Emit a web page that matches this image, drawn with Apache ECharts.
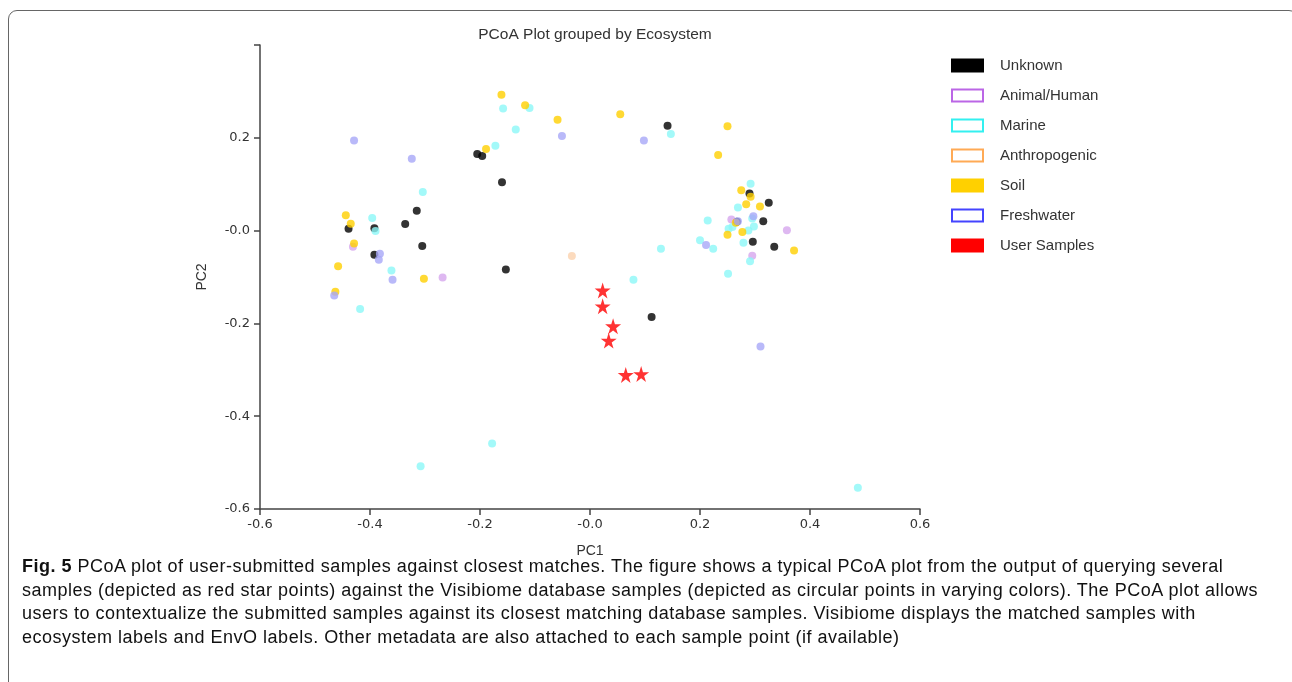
<!DOCTYPE html>
<html>
<head>
<meta charset="utf-8">
<script src="https://cdn.jsdelivr.net/npm/echarts@6/dist/echarts.min.js"></script>
<style>
  html, body { margin: 0; padding: 0; background: #fff; }
  #wrap { position: relative; width: 1292px; height: 682px; overflow: hidden; }
  #frame { position: absolute; left: 8px; top: 10px; width: 1290px; height: 700px;
           border: 1.5px solid #666; border-radius: 9px; box-sizing: border-box; }
  #chart { position: absolute; left: 0; top: 0; width: 1292px; height: 682px; }
  #caption { position: absolute; left: 22px; top: 555px; font-family: "Liberation Sans", sans-serif;
             font-size: 18px; letter-spacing: 0.5px; line-height: 23.5px; color: #111; white-space: nowrap; }
</style>
</head>
<body>
<div id="wrap">
  <div id="frame"></div>
  <div id="chart"></div>
  <div id="caption"></div>
</div>
<script>
// PC1 / PC2 coordinates per ecosystem
const unknown = [
    [-0.205, 0.165], [-0.196, 0.161], [-0.160, 0.104], [0.141, 0.226], [-0.315, 0.043],
    [-0.336, 0.014], [-0.439, 0.004], [-0.392, 0.005], [-0.392, -0.052], [-0.305, -0.033],
    [-0.153, -0.084], [0.112, -0.186], [0.325, 0.060], [0.315, 0.020], [0.296, -0.024],
    [0.335, -0.035], [0.290, 0.080], [0.267, 0.019]
]
const animalHuman = [
    [-0.431, -0.035], [-0.268, -0.101], [0.257, 0.024], [0.358, 0.001], [0.295, -0.054]
]
const marine = [
    [-0.158, 0.263], [-0.110, 0.264], [-0.135, 0.218], [-0.172, 0.183], [-0.304, 0.083],
    [-0.396, 0.027], [-0.390, -0.001], [-0.361, -0.086], [-0.418, -0.169], [0.147, 0.208],
    [0.292, 0.101], [0.269, 0.050], [0.214, 0.022], [0.295, 0.026], [0.298, 0.009],
    [0.288, 0.000], [0.252, 0.004], [0.259, 0.008], [0.200, -0.021], [0.224, -0.039],
    [0.279, -0.026], [0.291, -0.066], [0.251, -0.093], [0.129, -0.039], [0.079, -0.106],
    [-0.178, -0.459], [-0.308, -0.508], [0.487, -0.554]
]
const anthropogenic = [
    [-0.033, -0.055]
]
const soil = [
    [-0.161, 0.293], [-0.118, 0.270], [-0.059, 0.239], [-0.189, 0.176], [-0.444, 0.033],
    [-0.435, 0.015], [-0.429, -0.028], [-0.458, -0.077], [-0.463, -0.132], [-0.302, -0.104],
    [0.055, 0.251], [0.250, 0.225], [0.233, 0.163], [0.275, 0.087], [0.292, 0.073],
    [0.284, 0.057], [0.309, 0.052], [0.265, 0.017], [0.277, -0.003], [0.250, -0.009],
    [0.371, -0.043]
]
const freshwater = [
    [-0.429, 0.194], [-0.324, 0.155], [-0.051, 0.204], [0.098, 0.194], [-0.382, -0.050],
    [-0.384, -0.063], [-0.359, -0.106], [-0.465, -0.140], [0.269, 0.020], [0.211, -0.031],
    [0.310, -0.250], [0.297, 0.031]
]
const userSamples = [
    [0.023, -0.129], [0.023, -0.163], [0.042, -0.206], [0.034, -0.237], [0.065, -0.311],
    [0.093, -0.309]
]

const xTicks = [-0.6, -0.4, -0.2, 0, 0.2, 0.4, 0.6]
const yTicks = [-0.6, -0.4, -0.2, 0, 0.2]   // 0.4 has a tick but no label

const captionLines = [
    'PCoA plot of user-submitted samples against closest matches. The figure shows a typical PCoA plot from the output of querying several',
    'samples (depicted as red star points) against the Visibiome database samples (depicted as circular points in varying colors). The PCoA plot allows',
    'users to contextualize the submitted samples against its closest matching database samples. Visibiome displays the matched samples with',
    'ecosystem labels and EnvO labels. Other metadata are also attached to each sample point (if available)'
]

const starPath = 'path://M50,0 L61,35 L98,35 L68,57 L79,91 L50,70 L21,91 L32,57 L2,35 L39,35 Z'

const fmtTick = v => {
    const r = Math.round(v * 10) / 10
    if (r === 0) return '-0.0'
    return r.toFixed(1)
}

const dot = (name, data, color) => ({
    name: name,
    type: 'scatter',
    data: data,
    symbol: 'circle',
    symbolSize: 8,
    itemStyle: { color: color },
    emphasis: { disabled: true }
})

const legendIcon = (name, fill, border) => ({
    name: name,
    icon: 'rect',
    itemStyle: { color: fill, borderColor: border, borderWidth: 2, opacity: 1 }
})

const chart = echarts.init(document.getElementById('chart'), null, { renderer: 'canvas' })

chart.setOption({
    animation: false,
    backgroundColor: 'transparent',
    title: {
        text: 'PCoA Plot grouped by Ecosystem',
        left: 590,
        textAlign: 'center',
        top: 22,
        textStyle: { fontFamily: 'Liberation Sans', fontSize: 15.5, fontWeight: 'normal', color: '#333' }
    },
    legend: {
        orient: 'vertical',
        left: 946,
        top: 53,
        itemWidth: 31,
        itemHeight: 12,
        itemGap: 15,
        selectedMode: false,
        textStyle: { fontFamily: 'Liberation Sans', fontSize: 15, color: '#333', padding: [0, 0, 0, 12] },
        data: [
            legendIcon('Unknown', '#000', '#000'),
            legendIcon('Animal/Human', '#fff', '#bb66e6'),
            legendIcon('Marine', '#fff', '#33f0f0'),
            legendIcon('Anthropogenic', '#fff', '#ffaa55'),
            legendIcon('Soil', '#ffd000', '#ffd000'),
            legendIcon('Freshwater', '#fff', '#4444ff'),
            legendIcon('User Samples', '#ff0000', '#ff0000')
        ]
    },
    grid: { left: 260, right: 372, top: 45, bottom: 173 },
    xAxis: {
        type: 'value',
        min: -0.6,
        max: 0.6,
        interval: 0.2,
        name: 'PC1',
        nameLocation: 'middle',
        nameGap: 35,
        nameTextStyle: { fontFamily: 'Liberation Sans', fontSize: 14, color: '#333' },
        splitLine: { show: false },
        axisLine: { onZero: false, lineStyle: { color: '#444', width: 1.5 } },
        axisTick: { inside: false, length: 6, lineStyle: { color: '#444', width: 1.5 } },
        axisLabel: {
            margin: 9, fontFamily: 'DejaVu Sans', fontSize: 13, color: '#333',
            formatter: v => xTicks.some(t => Math.abs(t - v) < 1e-6) ? fmtTick(v) : ''
        }
    },
    yAxis: {
        type: 'value',
        min: -0.6,
        max: 0.4,
        interval: 0.2,
        name: 'PC2',
        nameLocation: 'middle',
        nameGap: 51,
        nameTextStyle: { fontFamily: 'Liberation Sans', fontSize: 14, color: '#333' },
        splitLine: { show: false },
        axisLine: { onZero: false, lineStyle: { color: '#444', width: 1.5 } },
        axisTick: { inside: false, length: 6, lineStyle: { color: '#444', width: 1.5 } },
        axisLabel: {
            margin: 10, fontFamily: 'DejaVu Sans', fontSize: 13, color: '#333',
            formatter: v => yTicks.some(t => Math.abs(t - v) < 1e-6) ? fmtTick(v) : ''
        }
    },
    series: [
        dot('Unknown', unknown, '#000'),
        dot('Animal/Human', animalHuman, '#d6a6ee'),
        dot('Marine', marine, '#8cf7f7'),
        dot('Anthropogenic', anthropogenic, '#fbd2ae'),
        dot('Soil', soil, '#ffd000'),
        dot('Freshwater', freshwater, '#a8a8f8'),
        {
            name: 'User Samples',
            type: 'scatter',
            data: userSamples,
            symbol: starPath,
            symbolSize: 16,
            itemStyle: { color: '#ff0000' },
            emphasis: { disabled: true }
        }
    ]
})

// figure caption below the chart
const cap = document.getElementById('caption')
cap.innerHTML = '<b>Fig. 5</b> ' + captionLines.join('<br>')
</script>
</body>
</html>
